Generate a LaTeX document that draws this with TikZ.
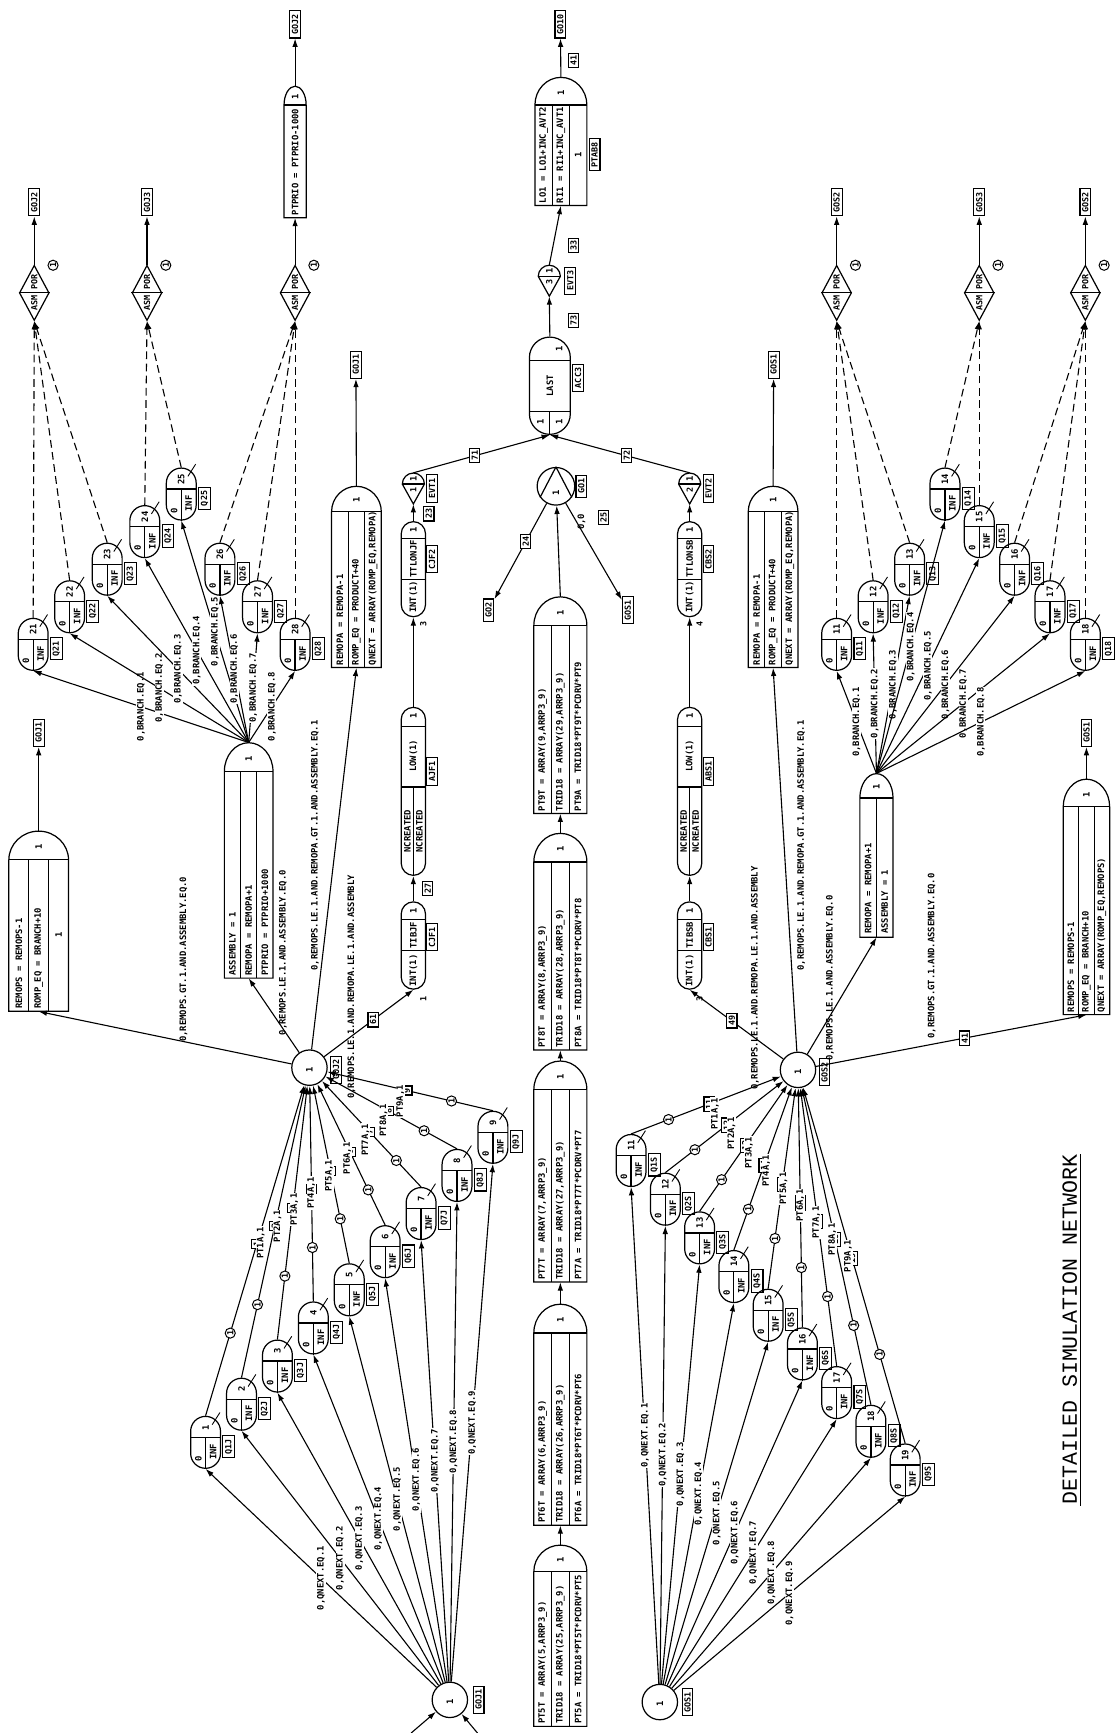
\documentclass[tikz,border=0pt]{standalone}
\usepackage{fontspec}
\usetikzlibrary{arrows.meta,shapes.geometric,calc}
\newfontfamily\monofam{DejaVu Sans Mono}
\newfontfamily\titlefam{Liberation Mono}
\newcommand\sfnt{\monofam\bfseries\fontsize{8}{9}\selectfont}
\newcommand\tfnt{\monofam\bfseries\fontsize{8}{9}\selectfont}
\newcommand\bfnt{\monofam\bfseries\fontsize{7.6}{8}\selectfont}

\tikzset{
  shp/.style={line width=1.1pt},
  txt/.style={rotate=90, inner sep=0pt, font=\sfnt},
  lbox/.style={draw, line width=1pt, rotate=90, inner xsep=3.2pt, inner ysep=2pt, font=\bfnt, fill=white},
  nbox/.style={draw, line width=1pt, rotate=90, inner sep=1.8pt, font=\bfnt, fill=white},
  cnum/.style={draw, circle, line width=0.9pt, rotate=90, inner sep=0.7pt, font=\bfnt, fill=white},
  elab/.style={rotate=90, inner sep=0.6pt, font=\tfnt, fill=white},
  lab2/.style={rotate=90, inner sep=0pt, font=\tfnt},
  arr/.style={line width=1pt, -{Latex[length=7.5pt,width=5pt]}},
  dsh/.style={arr, dash pattern=on 7pt off 4pt},
  qcap/.style={draw, line width=1.1pt, rounded corners=13.5pt, minimum width=27pt, minimum height=47pt, inner sep=0pt},
}

% queue node: name, x, y, number, label
\newcommand\qnode[5]{%
  \node[qcap] (#1) at (#2,#3) {};
  \draw[shp] ({#2-13.5},{#3-4.5}) -- ({#2+13.5},{#3-4.5});
  \draw[shp] (#2,{#3-4.5}) -- (#1.south);
  \draw[line width=0.8pt] ({#2+6},{#3-16}) -- ({#2+13},{#3-27});
  \node[txt] at (#2,{#3-13.5}) {#4};
  \node[txt] at ({#2+6.8},{#3+8.5}) {INF};
  \node[txt] at ({#2-6.5},{#3+15}) {0};
  \node[lbox] (#1-l) at ({#2+21},{#3+4}) {#5};
}

% activity box with a rounded head: name, xl, xr, ytop, yhead, ybot
\newcommand\actbox[6]{%
  \node[inner sep=0pt, minimum width={#3-#2}, minimum height={#6-#4}] (#1) at ({(#2+#3)/2},{(#4+#6)/2}) {};
  \draw[shp] (#2,#5) .. controls (#2,{#5-0.55*(#5-#4)}) and ({(#2+#3)/2-0.275*(#3-#2)},#4) .. ({(#2+#3)/2},#4)
     .. controls ({(#2+#3)/2+0.275*(#3-#2)},#4) and (#3,{#5-0.55*(#5-#4)}) .. (#3,#5) -- (#3,#6) -- (#2,#6) -- cycle;
  \draw[shp] (#2,#5) -- (#3,#5);
  \node[txt] at ({(#2+#3)/2},{#5-0.45*(#5-#4)}) {1};
}
\newcommand\actthree[9]{%
  \actbox{#1}{#2}{#3}{#4}{#5}{#6}%
  \pgfmathsetmacro\cw{(#3-#2)/3}%
  \draw[shp] ({#2+\cw},#5) -- ({#2+\cw},#6) ({#2+2*\cw},#5) -- ({#2+2*\cw},#6);
  \node[txt,anchor=west] at ({#2+0.5*\cw},{#6-2}) {#7};
  \node[txt,anchor=west] at ({#2+1.5*\cw},{#6-2}) {#8};
  \node[txt,anchor=west] at ({#2+2.5*\cw},{#6-2}) {#9};
}
\newcommand\acttwo[8]{%
  \actbox{#1}{#2}{#3}{#4}{#5}{#6}%
  \pgfmathsetmacro\cw{(#3-#2)/2}%
  \draw[shp] ({#2+\cw},#5) -- ({#2+\cw},#6);
  \node[txt,anchor=west] at ({#2+0.5*\cw},{#6-3}) {#7};
  \node[txt,anchor=west] at ({#2+1.5*\cw},{#6-3}) {#8};
}
\newcommand\actone[7]{%
  \actbox{#1}{#2}{#3}{#4}{#5}{#6}%
  \node[txt,anchor=west] at ({(#2+#3)/2},{#6-2}) {#7};
}
% capsule: name, cx, ytop, ybot, width, radius
\newcommand\capn[6]{%
  \node[draw, shp, minimum width=#5pt, minimum height={#4-#3}, inner sep=0pt, rounded corners=#6pt] (#1) at (#2,{(#3+#4)/2}) {};
}
% event node: name, cx, ybase, top text, bottom text
\newcommand\evtnode[5]{%
  \node[inner sep=0pt, minimum width=20pt, minimum height=28pt] (#1) at (#2,{#3+4}) {};
  \draw[shp] ({#2-10},#3) .. controls ({#2-10},{#3-5.5}) and ({#2-5.5},{#3-10}) .. (#2,{#3-10})
     .. controls ({#2+5.5},{#3-10}) and ({#2+10},{#3-5.5}) .. ({#2+10},#3) -- (#2,{#3+18}) -- cycle;
  \draw[shp] ({#2-10},#3) -- ({#2+10},#3);
  \node[txt] at (#2,{#3-4.5}) {#4};
  \node[txt,font=\bfnt] at (#2,{#3+5.5}) {#5};
}
% assembly diamond: name, x, y
\newcommand\dnode[3]{%
  \node[diamond, draw, shp, minimum width=27pt, minimum height=50pt, inner sep=0pt] (#1) at (#2,#3) {};
  \draw[shp] (#1.west) -- (#1.east);
  \node[txt,font=\bfnt] at (#2,{#3-9.5}) {POR};
  \node[txt,font=\bfnt] at (#2,{#3+9.5}) {ASM};
  \node[cnum] at ({#2+17},{#3-25}) {1};
}

\begin{document}
\begin{tikzpicture}[x=1pt,y=-1pt]
\useasboundingbox (0,0) rectangle (1012,1568);
\fill[white] (0,0) rectangle (1012,1568);

% ===== title
\node[rotate=90, inner sep=1pt, font=\titlefam\fontsize{19.5}{20}\selectfont] (title) at (968,1203) {DETAILED SIMULATION NETWORK};
\draw[line width=1.1pt] ([xshift=2pt]title.south west) -- ([xshift=2pt]title.south east);

% ===== central chain of activities
\actthree{a5}{483}{531}{1398}{1422}{1562}{PT5T = ARRAY(5,ARRP3\_9)}{TRID18 = ARRAY(25,ARRP3\_9)}{PT5A = TRID18*PT5T*PCDRV*PT5}
\actthree{a6}{483}{531}{1180}{1206}{1380}{PT6T = ARRAY(6,ARRP3\_9)}{TRID18 = ARRAY(26,ARRP3\_9)}{PT6A = TRID18*PT6T*PCDRV*PT6}
\actthree{a7}{483}{531}{960}{986}{1160}{PT7T = ARRAY(7,ARRP3\_9)}{TRID18 = ARRAY(27,ARRP3\_9)}{PT7A = TRID18*PT7T*PCDRV*PT7}
\actthree{a8}{483}{531}{754}{780}{950}{PT8T = ARRAY(8,ARRP3\_9)}{TRID18 = ARRAY(28,ARRP3\_9)}{PT8A = TRID18*PT8T*PCDRV*PT8}
\actthree{a9}{483}{531}{540}{566}{736}{PT9T = ARRAY(9,ARRP3\_9)}{TRID18 = ARRAY(29,ARRP3\_9)}{PT9A = TRID18*PT9T*PCDRV*PT9}
\draw[arr] (a5.north) -- (a6.south);
\draw[arr] (a6.north) -- (a7.south);
\draw[arr] (a7.north) -- (a8.south);
\draw[arr] (a8.north) -- (a9.south);

\node[circle, draw, shp, minimum size=34pt, inner sep=0pt] (go1) at (503,440) {};
\draw[shp] (go1.north) -- (go1.215) (go1.north) -- (go1.325);
\node[txt] at (503,446) {1};
\node[lbox] (go1-l) at (526,440) {GO1};
\draw[arr] (a9.north) -- (go1);
\node[lbox] (go2) at (442,552) {GO2};
\node[lbox] (gos1b) at (568,552) {GOS1};
\draw[arr] (go1) -- node[nbox,pos=0.4]{24} (go2);
\draw[arr] (go1) -- (gos1b);
\node[nbox] (n25) at (546,468) {25};
\node[lab2] (n00) at (526,472) {0,0};

% ===== assembly and output
\capn{acc3}{497.5}{305}{393}{37}{18.5}
\draw[shp] (479,326) -- (516,326) (479,372) -- (516,372) (497.5,372) -- (497.5,393);
\node[txt] at (506,316) {1};
\node[txt] at (497.5,349) {LAST};
\node[txt] at (489,382) {1};
\node[txt] at (506,382) {1};
\node[lbox] (acc3-l) at (523,342) {ACC3};

\evtnode{evt3}{497}{250}{1}{3}
\node[lbox] (evt3-l) at (516,254) {EVT3};
\actthree{lo1}{484}{531}{70}{95}{186}{LO1 = LO1+INC\_AVT2}{RI1 = RI1+INC\_AVT1}{}
\node[txt] at (523,140) {1};
\node[lbox] (lo1-l) at (538,140) {PTAB8};
\node[lbox] (go10) at (507,22) {GO10};
\draw[arr] (acc3.north) -- (evt3.south);
\draw[arr] (evt3.north) -- (lo1.south);
\draw[arr] (lo1.north) -- (go10);
\node[nbox] (n73) at (519,290) {73};
\node[nbox] (n33) at (519,222) {33};
\node[nbox] (n41) at (519,55) {41};

% ===== left branch chain
\evtnode{evt1}{374}{438}{1}{1}
\node[lbox] (evt1-l) at (391,442) {EVT1};
\capn{cjf2}{374}{472}{558}{22}{11}
\draw[shp] (363,487) -- (385,487) (363,524) -- (385,524);
\node[txt] at (374,479.5) {1};
\node[txt] at (374,505.5) {TTLONJF};
\node[txt] at (374,540) {INT(1)};
\node[lbox] (cjf2-l) at (391,506) {CJF2};
\node[txt,font=\bfnt] at (383,565) {3};
\node[nbox] (n23) at (388,465) {23};

\capn{ajf1}{374}{640}{792}{22}{11}
\draw[shp] (363,657) -- (385,657) (363,712) -- (385,712) (374,712) -- (374,792);
\node[txt] at (374,648) {1};
\node[txt] at (374,684) {LOW(1)};
\node[txt] at (368.5,752) {NCREATED};
\node[txt] at (379.5,752) {NCREATED};
\node[lbox] (ajf1-l) at (391,698) {AJF1};

\capn{cjf1}{374}{816}{895}{22}{11}
\draw[shp] (363,832) -- (385,832) (363,860) -- (385,860);
\node[txt] at (374,824) {1};
\node[txt] at (374,846) {TIBJF};
\node[txt] at (374,878) {INT(1)};
\node[lbox] (cjf1-l) at (391,848) {CJF1};
\node[txt,font=\bfnt] at (383,904) {1};
\node[nbox] (n27) at (387,804) {27};

\draw[arr] (cjf1.north) -- (ajf1.south);
\draw[arr] (ajf1.north) -- (cjf2.south);
\draw[arr] (cjf2.north) -- (evt1.south);
\draw[arr] (evt1.north) -- node[nbox,pos=0.45]{71} (acc3.south);

% ===== right branch chain
\evtnode{evt2}{624}{438}{1}{2}
\node[lbox] (evt2-l) at (641,442) {EVT2};
\capn{cbs2}{624}{472}{558}{22}{11}
\draw[shp] (613,487) -- (635,487) (613,524) -- (635,524);
\node[txt] at (624,479.5) {1};
\node[txt] at (624,505.5) {TTLONSB};
\node[txt] at (624,540) {INT(1)};
\node[lbox] (cbs2-l) at (641,506) {CBS2};
\node[txt,font=\bfnt] at (633,565) {4};

\capn{abs1}{624}{640}{792}{22}{11}
\draw[shp] (613,657) -- (635,657) (613,712) -- (635,712) (624,712) -- (624,792);
\node[txt] at (624,648) {1};
\node[txt] at (624,684) {LOW(1)};
\node[txt] at (618.5,752) {NCREATED};
\node[txt] at (629.5,752) {NCREATED};
\node[lbox] (abs1-l) at (641,698) {ABS1};

\capn{cbs1}{624}{816}{895}{22}{11}
\draw[shp] (613,832) -- (635,832) (613,860) -- (635,860);
\node[txt] at (624,824) {1};
\node[txt] at (624,846) {TIBSB};
\node[txt] at (624,878) {INT(1)};
\node[lbox] (cbs1-l) at (641,848) {CBS1};
\node[txt,font=\bfnt] at (633,904) {3};

\draw[arr] (cbs1.north) -- (abs1.south);
\draw[arr] (abs1.north) -- (cbs2.south);
\draw[arr] (cbs2.north) -- (evt2.south);
\draw[arr] (evt2.north) -- node[nbox,pos=0.45]{72} (acc3.south);

% ===== GOJ side: source and first queues
\node[circle, draw, shp, minimum size=32pt, inner sep=0pt] (goj1) at (407,1538) {};
\node[txt] at (407,1540) {1};
\node[lbox] (goj1-l) at (433,1538) {GOJ1};
\coordinate (inj1) at (372,1568);
\coordinate (inj2) at (432,1568);
\draw[arr] (inj1) -- (goj1);
\draw[arr] (inj2) -- (goj1);

\node[circle, draw, shp, minimum size=32pt, inner sep=0pt] (goj2) at (280,966) {};
\node[txt] at (280,968) {1};
\node[lbox] (goj2-l) at (304,968) {GOJ2};

\foreach \k in {1,...,9}{%
  \pgfmathsetmacro\qx{186+32.5*(\k-1)}%
  \pgfmathsetmacro\qy{1305-34.5*(\k-1)}%
  \qnode{qj\k}{\qx}{\qy}{\k}{Q\k J}%
}
\foreach \k in {1,...,9}{%
  \draw[arr] (goj1) -- node[elab,pos=0.5]{0,QNEXT.EQ.\k} (qj\k.south);
  \draw[arr] (qj\k.north) -- node[cnum,pos=0.25]{1} node[nbox,pos=0.52]{\k} node[elab,pos=0.56,xshift=-11pt]{PT\k A,1} (goj2);
}

% ===== GOS side: source and first queues
\node[circle, draw, shp, minimum size=32pt, inner sep=0pt] (gos1) at (597,1540) {};
\node[txt] at (597,1542) {1};
\node[lbox] (gos1-l) at (622,1540) {GOS1};

\node[circle, draw, shp, minimum size=32pt, inner sep=0pt] (gos2) at (722,968) {};
\node[txt] at (722,970) {1};
\node[lbox] (gos2-l) at (746,970) {GOS2};

\foreach \k in {1,...,9}{%
  \pgfmathsetmacro\qx{571+31*(\k-1)}%
  \pgfmathsetmacro\qy{1050+35*(\k-1)}%
  \qnode{qs\k}{\qx}{\qy}{1\k}{Q\k S}%
}
\foreach \k in {1,...,9}{%
  \draw[arr] (gos1) -- node[elab,pos=0.5]{0,QNEXT.EQ.\k} (qs\k.south);
  \draw[arr] (qs\k.north) -- node[cnum,pos=0.25]{1} node[nbox,pos=0.52]{1\k} node[elab,pos=0.56,xshift=-11pt]{PT\k A,1} (gos2);
}

% ===== GOJ2 branching
\actthree{remsl}{8}{62}{752}{778}{915}{REMOPS = REMOPS-1}{ROMP\_EQ = BRANCH+10}{}
\node[txt] at (53,846) {1};
\node[lbox] (gojA) at (35,663) {GOJ1};
\draw[arr] (remsl.north) -- (gojA);

\actthree{asml}{203}{247}{672}{698}{885}{ASSEMBLY = 1}{REMOPA = REMOPA+1}{PTPRIO = PTPRIO+1000}
\actthree{rmal}{300}{345}{440}{463}{604}{REMOPA = REMOPA-1}{ROMP\_EQ = PRODUCT+40}{QNEXT = ARRAY(ROMP\_EQ,REMOPA)}
\node[lbox] (gojB) at (322,330) {GOJ1};
\draw[arr] (rmal.north) -- (gojB);

\draw[arr] (goj2) -- (remsl.south);
\draw[arr] (goj2) -- (asml.south);
\draw[arr] (goj2) -- (rmal.south);
\draw[arr] (goj2) -- node[nbox,pos=0.55]{61} (cjf1.south);
\node[lab2] at (166,868) {0,REMOPS.GT.1.AND.ASSEMBLY.EQ.0};
\node[lab2] at (256,862) {0,REMOPS.LE.1.AND.ASSEMBLY.EQ.0};
\node[lab2] at (285,765) {0,REMOPS.LE.1.AND.REMOPA.GT.1.AND.ASSEMBLY.EQ.1};
\node[lab2] at (318,893) {0,REMOPS.LE.1.AND.REMOPA.LE.1.AND.ASSEMBLY};

% ===== GOJ assembly queues
\foreach \n/\px/\py in {21/30/583,22/63/549,23/97/515,24/131/481,25/164/447,26/199/515,27/233/549,28/267/583}{%
  \qnode{qa\n}{\px}{\py}{\n}{Q\n}%
}
\foreach \n/\e in {21/1,22/2,23/3,24/4,25/5,26/6,27/7,28/8}{%
  \draw[arr] (asml.north) -- node[elab,pos=0.5]{0,BRANCH.EQ.\e} (qa\n.south);
}
\dnode{dl1}{31}{265}
\dnode{dl2}{133}{265}
\dnode{dl3}{267}{265}
\foreach \n/\d in {21/dl1,22/dl1,23/dl1,24/dl2,25/dl2,26/dl3,27/dl3,28/dl3}{%
  \draw[dsh] (qa\n.north) -- (\d.south);
}
\node[lbox] (ojl1) at (31,183) {GOJ2};
\node[lbox] (ojl2) at (133,183) {GOJ3};
\draw[arr] (dl1.north) -- (ojl1);
\draw[arr] (dl2.north) -- (ojl2);
\actone{ptp}{257}{277}{78}{95}{197}{PTPRIO = PTPRIO-1000}
\node[lbox] (ojl3) at (267,22) {GOJ2};
\draw[arr] (dl3.north) -- (ptp.south);
\draw[arr] (ptp.north) -- (ojl3);

% ===== GOS2 branching
\actthree{rmar}{677}{722}{440}{463}{604}{REMOPA = REMOPA-1}{ROMP\_EQ = PRODUCT+40}{QNEXT = ARRAY(ROMP\_EQ,REMOPA)}
\node[lbox] (gosB) at (700,330) {GOS1};
\draw[arr] (rmar.north) -- (gosB);
\acttwo{asmr}{778}{808}{700}{722}{848}{REMOPA = REMOPA+1}{ASSEMBLY = 1}
\actthree{remsr}{962}{1004}{705}{730}{918}{REMOPS = REMOPS-1}{ROMP\_EQ = BRANCH+10}{QNEXT = ARRAY(ROMP\_EQ,REMOPS)}
\node[lbox] (gosA) at (983,663) {GOS1};
\draw[arr] (remsr.north) -- (gosA);

\draw[arr] (gos2) -- node[nbox,pos=0.55]{49} (cbs1.south);
\draw[arr] (gos2) -- (rmar.south);
\draw[arr] (gos2) -- (asmr.south);
\draw[arr] (gos2) -- node[nbox,pos=0.55]{41} (remsr.south);
\node[lab2] at (683,885) {0,REMOPS.LE.1.AND.REMOPA.LE.1.AND.ASSEMBLY};
\node[lab2] at (725,765) {0,REMOPS.LE.1.AND.REMOPA.GT.1.AND.ASSEMBLY.EQ.1};
\node[lab2] at (751,885) {0,REMOPS.LE.1.AND.ASSEMBLY.EQ.0};
\node[lab2] at (843,865) {0,REMOPS.GT.1.AND.ASSEMBLY.EQ.0};

% ===== GOS assembly queues
\foreach \n/\px/\py in {11/757/583,12/790/549,13/823/515,14/855/447,15/886/481,16/918/515,17/950/549,18/982/583}{%
  \qnode{qb\n}{\px}{\py}{\n}{Q\n}%
}
\foreach \n/\e in {11/1,12/2,13/3,14/4,15/5,16/6,17/7,18/8}{%
  \draw[arr] (asmr.north) -- node[elab,pos=0.5]{0,BRANCH.EQ.\e} (qb\n.south);
}
\dnode{dr1}{757}{265}
\dnode{dr2}{886}{265}
\dnode{dr3}{982}{265}
\foreach \n/\d in {11/dr1,12/dr1,13/dr1,14/dr2,15/dr2,16/dr3,17/dr3,18/dr3}{%
  \draw[dsh] (qb\n.north) -- (\d.south);
}
\node[lbox] (osr1) at (757,183) {GOS2};
\node[lbox] (osr2) at (886,183) {GOS3};
\node[lbox] (osr3) at (982,183) {GOS2};
\draw[arr] (dr1.north) -- (osr1);
\draw[arr] (dr2.north) -- (osr2);
\draw[arr] (dr3.north) -- (osr3);

\end{tikzpicture}
\end{document}
